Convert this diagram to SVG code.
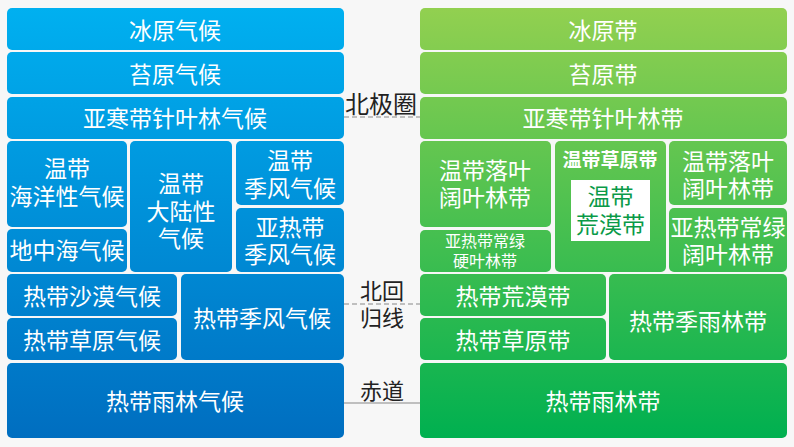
<svg xmlns="http://www.w3.org/2000/svg" width="794" height="447" viewBox="0 0 794 447">
<defs>
<linearGradient id="gb" gradientUnits="userSpaceOnUse" x1="0" y1="8" x2="0" y2="438">
<stop offset="0" stop-color="#00B0F0"/>
<stop offset="1" stop-color="#006EC0"/>
</linearGradient>
<linearGradient id="gg" gradientUnits="userSpaceOnUse" x1="0" y1="8" x2="0" y2="438">
<stop offset="0" stop-color="#92D050"/>
<stop offset="1" stop-color="#00B050"/>
</linearGradient>
</defs>
<style>
.b{fill:url(#gb);}
.g{fill:url(#gg);}
text{font-family:"Liberation Sans","Noto Sans CJK SC",sans-serif;text-anchor:middle;dominant-baseline:central;}
.t{fill:#FFFFFF;font-size:23px;}
.s{fill:#FFFFFF;font-size:16px;}
.bold{fill:#FFFFFF;font-size:19px;font-weight:bold;}
.gt{fill:#0A9A48;font-size:23px;}
.lab{fill:#222222;font-size:22px;}
.ln{stroke:#888888;stroke-width:1.2;fill:none;}
</style>
<rect width="794" height="447" fill="#F7F7F7"/>

<g id="lines">
<line class="ln" x1="344" y1="117" x2="420" y2="117" stroke-dasharray="5,3"/>
<line class="ln" x1="344" y1="304" x2="420" y2="304" stroke-dasharray="5,3"/>
<line class="ln" x1="344" y1="403" x2="420" y2="403"/>
</g>

<g id="labels">
<text class="lab" x="381" y="104" style="font-size:24px">北极圈</text>
<text class="lab" x="382" y="291">北回</text>
<text class="lab" x="382" y="318">归线</text>
<text class="lab" x="382" y="391">赤道</text>
</g>

<g id="L1"><rect class="b" x="7" y="8" width="337" height="42" rx="5"/><text class="t" x="175" y="31">冰原气候</text></g>
<g id="L2"><rect class="b" x="7" y="52" width="337" height="42" rx="5"/><text class="t" x="175" y="75">苔原气候</text></g>
<g id="L3"><rect class="b" x="7" y="97" width="337" height="42" rx="5"/><text class="t" x="175" y="119">亚寒带针叶林气候</text></g>
<g id="L4"><rect class="b" x="7" y="141" width="120" height="86" rx="5"/><text class="t" x="67" y="169">温带</text><text class="t" x="67" y="197">海洋性气候</text></g>
<g id="L5"><rect class="b" x="7" y="229" width="120" height="43" rx="5"/><text class="t" x="67" y="251">地中海气候</text></g>
<g id="L6"><rect class="b" x="130" y="141" width="102" height="131" rx="5"/><text class="t" x="181" y="184">温带</text><text class="t" x="181" y="212">大陆性</text><text class="t" x="181" y="239">气候</text></g>
<g id="L7"><rect class="b" x="236" y="141" width="108" height="64" rx="5"/><text class="t" x="290" y="161">温带</text><text class="t" x="290" y="189">季风气候</text></g>
<g id="L8"><rect class="b" x="236" y="208" width="108" height="64" rx="5"/><text class="t" x="290" y="228">亚热带</text><text class="t" x="290" y="255">季风气候</text></g>
<g id="L9"><rect class="b" x="7" y="274" width="170" height="42" rx="5"/><text class="t" x="92" y="297">热带沙漠气候</text></g>
<g id="L10"><rect class="b" x="7" y="318" width="170" height="42" rx="5"/><text class="t" x="92" y="341">热带草原气候</text></g>
<g id="L11"><rect class="b" x="181" y="274" width="163" height="86" rx="5"/><text class="t" x="262" y="319">热带季风气候</text></g>
<g id="L12"><rect class="b" x="7" y="363" width="337" height="75" rx="5"/><text class="t" x="175" y="402">热带雨林气候</text></g>

<g id="R1"><rect class="g" x="420" y="8" width="367" height="42" rx="5"/><text class="t" x="603" y="31">冰原带</text></g>
<g id="R2"><rect class="g" x="420" y="52" width="367" height="42" rx="5"/><text class="t" x="603" y="75">苔原带</text></g>
<g id="R3"><rect class="g" x="420" y="97" width="367" height="42" rx="5"/><text class="t" x="603" y="119">亚寒带针叶林带</text></g>
<g id="R4"><rect class="g" x="420" y="141" width="131" height="86" rx="5"/><text class="t" x="485" y="171">温带落叶</text><text class="t" x="485" y="198">阔叶林带</text></g>
<g id="R5"><rect class="g" x="420" y="230" width="131" height="42" rx="5"/><text class="s" x="485" y="241">亚热带常绿</text><text class="s" x="485" y="261">硬叶林带</text></g>
<g id="R6"><rect class="g" x="555" y="141" width="111" height="131" rx="5"/><text class="bold" x="610" y="160">温带草原带</text>
<rect x="571" y="180" width="79" height="61" fill="#FFFFFF"/><text class="gt" x="610.5" y="197">温带</text><text class="gt" x="610.5" y="225">荒漠带</text></g>
<g id="R7"><rect class="g" x="669" y="141" width="118" height="64" rx="5"/><text class="t" x="728" y="162">温带落叶</text><text class="t" x="728" y="189">阔叶林带</text></g>
<g id="R8"><rect class="g" x="669" y="208" width="118" height="64" rx="5"/><text class="t" x="728" y="228">亚热带常绿</text><text class="t" x="728" y="255">阔叶林带</text></g>
<g id="R9"><rect class="g" x="420" y="274" width="186" height="42" rx="5"/><text class="t" x="513" y="297">热带荒漠带</text></g>
<g id="R10"><rect class="g" x="420" y="318" width="186" height="42" rx="5"/><text class="t" x="513" y="341">热带草原带</text></g>
<g id="R11"><rect class="g" x="609" y="274" width="178" height="86" rx="5"/><text class="t" x="698" y="322">热带季雨林带</text></g>
<g id="R12"><rect class="g" x="420" y="363" width="367" height="75" rx="5"/><text class="t" x="603" y="402">热带雨林带</text></g>
</svg>
